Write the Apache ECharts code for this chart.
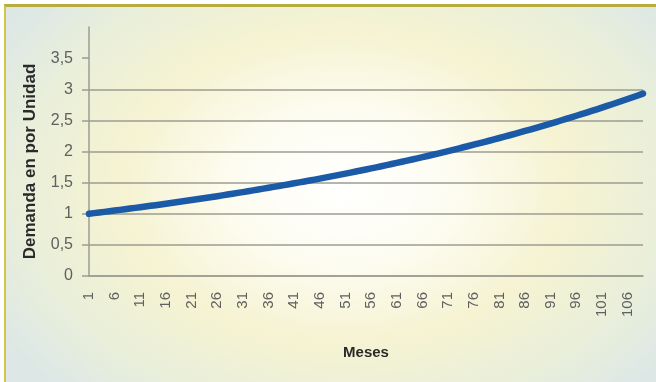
<!DOCTYPE html>
<html>
<head>
<meta charset="utf-8">
<script src="https://cdn.jsdelivr.net/npm/echarts@6/dist/echarts.min.js"></script>
<style>
  html, body { margin: 0; padding: 0; background: #ffffff; }
  #wrap {
    position: absolute; left: 4px; top: 4px; width: 652px; height: 378px;
    border-top: 3px solid #b7ad3e; border-left: 2px solid #cfc64a;
    box-sizing: border-box;
    background: radial-gradient(ellipse 62% 75% at 52% 48%, #ffffff 0%, #fdfcf0 28%, #f5f3d2 55%, #eaefda 80%, #dde8e6 100%);
  }
  #chart { position: absolute; left: -6px; top: -7px; width: 656px; height: 382px; }
</style>
</head>
<body>
<div id="wrap"><div id="chart"></div></div>
<script>
// Demanda mensual en por unidad, meses 1..109
const meses = [];
for (let m = 1; m <= 109; m++) meses.push(String(m));

const demanda = [
  1.000, 1.010, 1.020, 1.030, 1.041, 1.051, 1.062, 1.072, 1.083, 1.094,
  1.105, 1.116, 1.127, 1.138, 1.149, 1.161, 1.173, 1.184, 1.196, 1.208,
  1.220, 1.232, 1.245, 1.257, 1.270, 1.282, 1.295, 1.308, 1.321, 1.335,
  1.348, 1.361, 1.375, 1.389, 1.403, 1.417, 1.431, 1.445, 1.460, 1.474,
  1.489, 1.504, 1.519, 1.534, 1.549, 1.565, 1.580, 1.596, 1.612, 1.628,
  1.645, 1.661, 1.678, 1.694, 1.711, 1.729, 1.746, 1.763, 1.781, 1.799,
  1.817, 1.835, 1.853, 1.872, 1.890, 1.909, 1.928, 1.948, 1.967, 1.987,
  2.007, 2.027, 2.047, 2.068, 2.088, 2.109, 2.130, 2.152, 2.173, 2.195,
  2.217, 2.239, 2.261, 2.284, 2.307, 2.330, 2.353, 2.377, 2.400, 2.424,
  2.449, 2.473, 2.498, 2.523, 2.548, 2.574, 2.599, 2.625, 2.652, 2.678,
  2.705, 2.732, 2.759, 2.787, 2.815, 2.843, 2.871, 2.900, 2.929
];

const yTicks = [0, 0.5, 1, 1.5, 2, 2.5, 3, 3.5];

const chart = echarts.init(document.getElementById('chart'), null, { renderer: 'canvas' });
const gridColor = '#9c9c92';
const textFont = '"Liberation Sans", Arial, sans-serif';

chart.setOption({
  backgroundColor: 'transparent',
  animation: false,
  grid: { left: 89, right: 13, top: 27, bottom: 106, containLabel: false },
  xAxis: {
    type: 'category',
    data: meses,
    boundaryGap: false,
    name: 'Meses',
    nameLocation: 'middle',
    nameGap: 69,
    nameTextStyle: { color: '#2a2a2a', fontWeight: 'bold', fontSize: 15, fontFamily: textFont },
    axisLine: { lineStyle: { color: gridColor, width: 1.5 } },
    axisTick: { show: false },
    axisLabel: {
      interval: 4,
      rotate: 90,
      margin: 16,
      color: '#606060',
      fontSize: 15,
      fontFamily: textFont
    },
    splitLine: { show: false }
  },
  yAxis: {
    type: 'value',
    min: 0,
    max: 4,
    interval: 0.5,
    name: 'Demanda en por Unidad',
    nameLocation: 'middle',
    nameGap: 50,
    nameTextStyle: { color: '#2a2a2a', fontWeight: 'bold', fontSize: 17, fontFamily: textFont, padding: [0, 20, 0, 0] },
    axisLine: { show: true, lineStyle: { color: gridColor, width: 1.5 } },
    axisTick: { show: true, length: 7, customValues: yTicks, lineStyle: { color: gridColor, width: 1.5 } },
    axisLabel: {
      customValues: yTicks,
      margin: 16,
      color: '#606060',
      fontSize: 16,
      fontFamily: textFont,
      formatter: v => String(v).replace('.', ',')
    },
    splitLine: { show: true, showMaxLine: false, lineStyle: { color: gridColor, width: 1.5 } }
  },
  series: [{
    type: 'line',
    data: demanda,
    smooth: false,
    showSymbol: false,
    lineStyle: { color: '#1b5aa6', width: 6.5, cap: 'round', join: 'round' },
    itemStyle: { color: '#1b5aa6' }
  }]
});
</script>
</body>
</html>
